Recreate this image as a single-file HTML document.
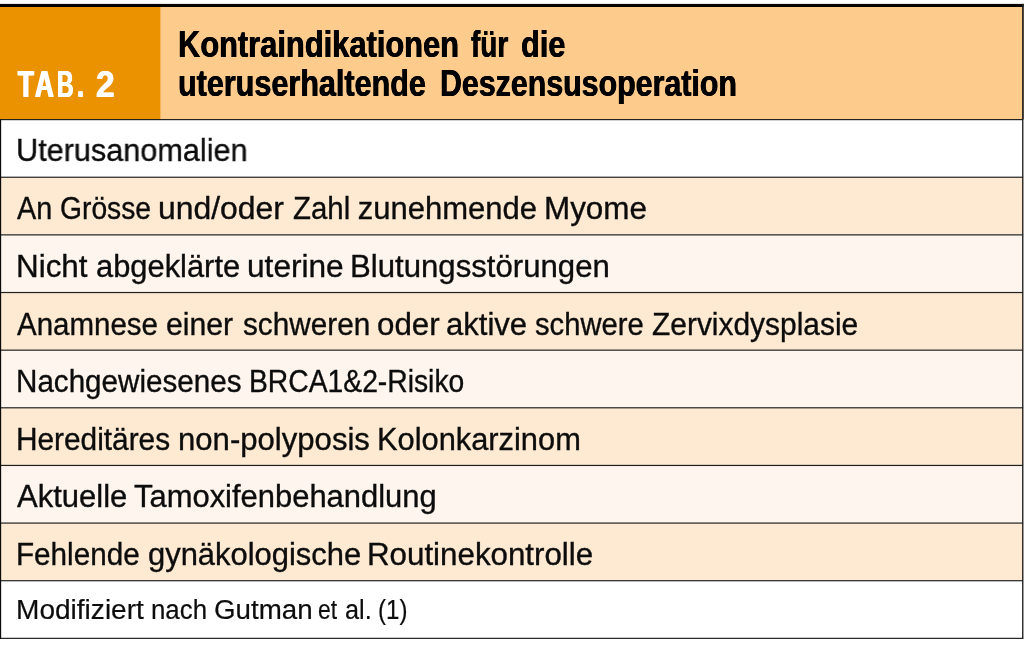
<!DOCTYPE html>
<html lang="de">
<head>
<meta charset="utf-8">
<title>Tab. 2</title>
<style>
html,body{margin:0;padding:0;background:#fff;}
body{width:1024px;height:650px;position:relative;overflow:hidden;font-family:"Liberation Sans",sans-serif;color:#0c0c0c;}
.abs{position:absolute;}
.tl{position:absolute;left:0;width:1024px;height:0;line-height:1;white-space:nowrap;will-change:transform;}
.tl span{position:absolute;top:0;display:block;transform-origin:0 0;white-space:nowrap;}
.b{font-size:31px;-webkit-text-stroke:0.35px #0c0c0c;}
.f{font-size:27px;-webkit-text-stroke:0.2px #0c0c0c;}
.h{font-size:37.5px;font-weight:bold;color:#000;}
.w{color:#fff;font-size:36.8px;}
</style>
</head>
<body>
<!-- geometry -->
<svg class="abs" style="left:0;top:0;" width="1024" height="650" viewBox="0 0 1024 650">
<rect x="0" y="5" width="1024" height="114.60" fill="#fdcb8c"/>
<rect x="0" y="5" width="160.4" height="114.60" fill="#eb9200"/>
<rect x="0" y="177.24" width="1024" height="57.64" fill="#fee9d3"/>
<rect x="0" y="234.88" width="1024" height="57.64" fill="#fef5ee"/>
<rect x="0" y="292.52" width="1024" height="57.64" fill="#fee9d3"/>
<rect x="0" y="350.16" width="1024" height="57.64" fill="#fef5ee"/>
<rect x="0" y="407.80" width="1024" height="57.64" fill="#fee9d3"/>
<rect x="0" y="465.44" width="1024" height="57.64" fill="#fef5ee"/>
<rect x="0" y="523.08" width="1024" height="57.64" fill="#fee9d3"/>
<rect x="0" y="3.9" width="1024" height="3.1" fill="#050000"/>
<rect x="0" y="119.00" width="1023.3" height="1.2" fill="#222"/>
<rect x="0" y="176.64" width="1023.3" height="1.2" fill="#222"/>
<rect x="0" y="234.28" width="1023.3" height="1.2" fill="#222"/>
<rect x="0" y="291.92" width="1023.3" height="1.2" fill="#222"/>
<rect x="0" y="349.56" width="1023.3" height="1.2" fill="#222"/>
<rect x="0" y="407.20" width="1023.3" height="1.2" fill="#222"/>
<rect x="0" y="464.84" width="1023.3" height="1.2" fill="#222"/>
<rect x="0" y="522.48" width="1023.3" height="1.2" fill="#222"/>
<rect x="0" y="580.12" width="1023.3" height="1.2" fill="#222"/>
<rect x="0" y="637.76" width="1023.3" height="1.2" fill="#222"/>
<rect x="0" y="119.60" width="1.15" height="519.36" fill="#0a0a0a"/>
<rect x="1023.2" y="3.9" width="0.8" height="115.70" fill="#444"/>
<rect x="1023.2" y="119.60" width="0.8" height="518.76" fill="#cfcfcf"/>
<rect x="1022.1" y="3.9" width="1.2" height="635.06" fill="#1a1a1a"/>
</svg>
<div class="tl h w" style="top:67px;"><span style="left:18.05px;transform:scaleX(0.7000);text-shadow:1.0px 0 0 #fff,-1.0px 0 0 #fff;">T</span><span style="left:34.51px;transform:scaleX(0.7071);text-shadow:1.0px 0 0 #fff,-1.0px 0 0 #fff;">A</span><span style="left:57.38px;transform:scaleX(0.6240);text-shadow:1.0px 0 0 #fff,-1.0px 0 0 #fff;">B</span><span style="left:77.03px;transform:scaleX(0.6944);text-shadow:0.6px 0 0 #fff,-0.6px 0 0 #fff;">.</span><span style="left:96.14px;transform:scaleX(0.9105);text-shadow:0.5px 0 0 #fff,-0.5px 0 0 #fff;">2</span></div>
<div class="tl h" style="top:26px;"><span style="left:177.72px;transform:scaleX(0.8226);text-shadow:0.45px 0 0 #000,-0.45px 0 0 #000;">Kontraindikationen</span><span style="left:470.63px;transform:scaleX(0.7428);text-shadow:0.45px 0 0 #000,-0.45px 0 0 #000;">für</span><span style="left:520.65px;transform:scaleX(0.8192);text-shadow:0.45px 0 0 #000,-0.45px 0 0 #000;">die</span></div>
<div class="tl h" style="top:65px;"><span style="left:178.24px;transform:scaleX(0.8148);text-shadow:0.45px 0 0 #000,-0.45px 0 0 #000;">uteruserhaltende</span><span style="left:439.75px;transform:scaleX(0.8096);text-shadow:0.45px 0 0 #000,-0.45px 0 0 #000;">Deszensusoperation</span></div>
<!-- text -->
<div class="tl b" style="top:135px;"><span style="left:15.82px;transform:scaleX(0.9885);">Uterusanomalien</span></div>
<div class="tl b" style="top:193px;"><span style="left:17.20px;transform:scaleX(0.9297);">An</span><span style="left:60.39px;transform:scaleX(0.9112);">Grösse</span><span style="left:158.24px;transform:scaleX(1.0295);">und/oder</span><span style="left:293.30px;transform:scaleX(0.9483);">Zahl</span><span style="left:357.70px;transform:scaleX(1.0000);">zunehmende</span><span style="left:543.67px;transform:scaleX(1.0133);">Myome</span></div>
<div class="tl b" style="top:251px;"><span style="left:15.97px;transform:scaleX(1.0128);">Nicht</span><span style="left:95.90px;transform:scaleX(0.9956);">abgeklärte</span><span style="left:246.76px;transform:scaleX(1.0203);">uterine</span><span style="left:349.99px;transform:scaleX(1.0052);">Blutungsstörungen</span></div>
<div class="tl b" style="top:309px;"><span style="left:17.20px;transform:scaleX(0.9513);">Anamnese</span><span style="left:166.03px;transform:scaleX(0.9732);">einer</span><span style="left:242.80px;transform:scaleX(0.9587);">schweren</span><span style="left:376.99px;transform:scaleX(1.0095);">oder</span><span style="left:446.40px;transform:scaleX(1.0008);">aktive</span><span style="left:535.00px;transform:scaleX(0.9423);">schwere</span><span style="left:652.00px;transform:scaleX(0.9652);">Zervixdysplasie</span></div>
<div class="tl b" style="top:366px;"><span style="left:16.09px;transform:scaleX(0.9551);">Nachgewiesenes</span><span style="left:249.38px;transform:scaleX(0.9121);">BRCA1&amp;2-Risiko</span></div>
<div class="tl b" style="top:424px;"><span style="left:16.08px;transform:scaleX(0.9617);">Hereditäres</span><span style="left:177.69px;transform:scaleX(1.0033);">non-polyposis</span><span style="left:377.21px;transform:scaleX(0.9939);">Kolonkarzinom</span></div>
<div class="tl b" style="top:481px;"><span style="left:17.20px;transform:scaleX(1.0005);">Aktuelle</span><span style="left:133.60px;transform:scaleX(0.9980);">Tamoxifenbehandlung</span></div>
<div class="tl b" style="top:539px;"><span style="left:16.09px;transform:scaleX(0.9569);">Fehlende</span><span style="left:147.60px;transform:scaleX(0.9974);">gynäkologische</span><span style="left:367.48px;transform:scaleX(1.0096);">Routinekontrolle</span></div>
<div class="tl f" style="top:597px;"><span style="left:15.92px;transform:scaleX(1.0393);">Modifiziert</span><span style="left:151.04px;transform:scaleX(0.9570);">nach</span><span style="left:213.77px;transform:scaleX(1.0263);">Gutman</span><span style="left:318.15px;transform:scaleX(0.8494);">et</span><span style="left:344.87px;transform:scaleX(0.9341);">al.</span><span style="left:377.61px;transform:scaleX(0.8933);">(1)</span></div>
</body>
</html>
